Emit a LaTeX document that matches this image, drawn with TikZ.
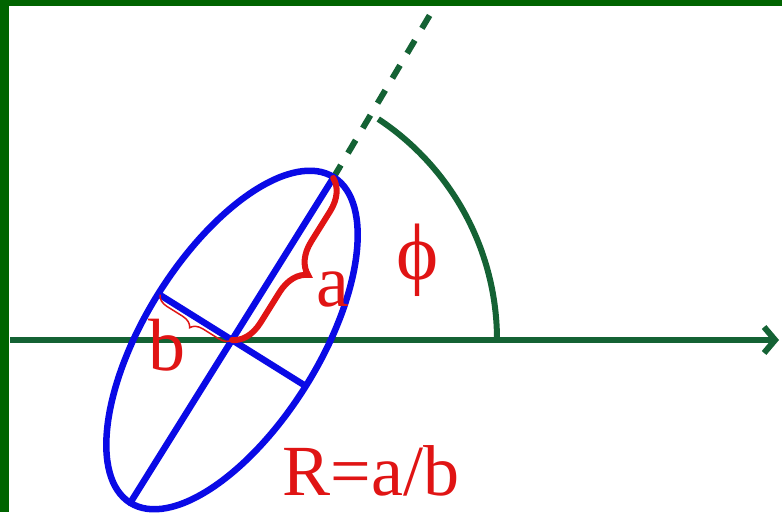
\documentclass[tikz,border=0pt]{standalone}
\usepackage{fontspec}
\setmainfont{Liberation Serif}
\usetikzlibrary{arrows.meta,decorations.pathreplacing,calc}
\definecolor{verde}{HTML}{146234}
\definecolor{marco}{HTML}{006400}
\definecolor{azul}{HTML}{0A0AE6}
\definecolor{rojo}{HTML}{E01414}
\begin{document}
\begin{tikzpicture}[x=1pt,y=1pt,line cap=round,
  eje/.style={draw=verde,line width=6pt},
  blue/.style={draw=azul,line width=6.5pt},
  lbl/.style={text=rojo,inner sep=0pt,anchor=base,font=\fontsize{74}{74}\selectfont}]
\useasboundingbox (0,0) rectangle (782,512);
\fill[white] (0,0) rectangle (782,512);
\coordinate (c) at (232,172);
\coordinate (top) at ($(c)+(58:191)$);
\coordinate (bot) at ($(c)+(238:192)$);
\coordinate (m1) at ($(c)+(-32:85)$);
\coordinate (m2) at ($(c)+(148:85)$);
\coordinate (far) at ($(c)+(58.7:400)$);
\coordinate (x0) at (10,172);
\coordinate (x1) at (779,172);
% axes and angle
\draw[eje,line cap=butt,-{Straight Barb[length=11pt,width=26pt]}] (x0) -- (x1);
\draw[eje,line cap=butt,dash pattern=on 15pt off 14pt] (top) -- (far);
\draw[eje,line cap=butt] ($(c)+(265,0)$) arc[start angle=0,end angle=56.5,radius=265];
% ellipse
\draw[blue,rotate around={58:(c)}] (c) ellipse[x radius=192,y radius=87];
\draw[blue] (top) -- (bot);
\draw[blue] (m1) -- (m2);
% braces
\draw[rojo,line width=6pt,decorate,decoration={brace,amplitude=30pt}] (top) -- (c);
\draw[rojo,line width=1.5pt,decorate,decoration={brace,amplitude=12pt}] (c) -- (m2);
% labels
\node[lbl] (la) at (333,205) {a};
\node[lbl] (lb) at (167,142) {b};
\node[lbl,anchor=center,font=\fontsize{80}{80}\selectfont] (lphi) at (418,252) {ϕ};
\node[lbl,font=\fontsize{72}{72}\selectfont] (lr) at (371,17) {R=a/b};
% frame
\fill[marco] (0,506) rectangle (782,512);
\fill[marco] (0,0) rectangle (9,512);
\end{tikzpicture}
\end{document}
